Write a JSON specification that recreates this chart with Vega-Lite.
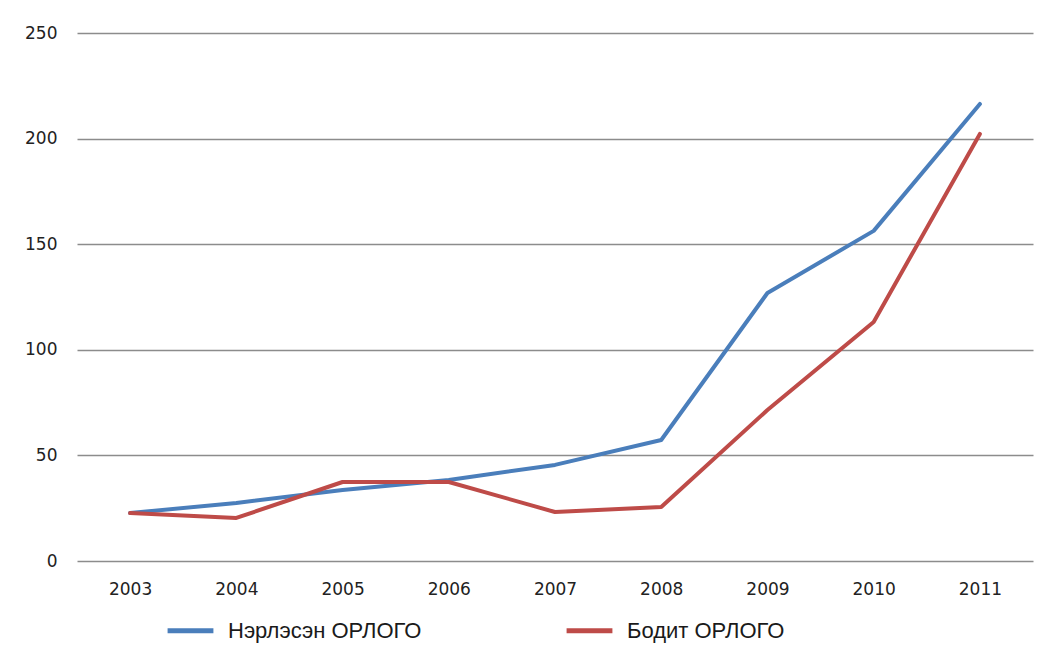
{
  "$schema": "https://vega.github.io/schema/vega-lite/v6.json",
  "width": 956,
  "height": 528,
  "autosize": {"type": "none"},
  "padding": {"left": 77, "top": 33, "right": 12, "bottom": 97},
  "background": "white",
  "config": {
    "view": {"stroke": null},
    "font": "DejaVu Sans"
  },
  "data": {
    "values": [
      {"year": "2003", "series": "Нэрлэсэн ОРЛОГО", "value": 22.7},
      {"year": "2004", "series": "Нэрлэсэн ОРЛОГО", "value": 27.5},
      {"year": "2005", "series": "Нэрлэсэн ОРЛОГО", "value": 33.6},
      {"year": "2006", "series": "Нэрлэсэн ОРЛОГО", "value": 38.4},
      {"year": "2007", "series": "Нэрлэсэн ОРЛОГО", "value": 45.5},
      {"year": "2008", "series": "Нэрлэсэн ОРЛОГО", "value": 57.3},
      {"year": "2009", "series": "Нэрлэсэн ОРЛОГО", "value": 126.9},
      {"year": "2010", "series": "Нэрлэсэн ОРЛОГО", "value": 156.3},
      {"year": "2011", "series": "Нэрлэсэн ОРЛОГО", "value": 216.4},
      {"year": "2003", "series": "Бодит ОРЛОГО", "value": 22.7},
      {"year": "2004", "series": "Бодит ОРЛОГО", "value": 20.4},
      {"year": "2005", "series": "Бодит ОРЛОГО", "value": 37.4},
      {"year": "2006", "series": "Бодит ОРЛОГО", "value": 37.4},
      {"year": "2007", "series": "Бодит ОРЛОГО", "value": 23.2},
      {"year": "2008", "series": "Бодит ОРЛОГО", "value": 25.6},
      {"year": "2009", "series": "Бодит ОРЛОГО", "value": 71.5},
      {"year": "2010", "series": "Бодит ОРЛОГО", "value": 113.2},
      {"year": "2011", "series": "Бодит ОРЛОГО", "value": 202.2}
    ]
  },
  "mark": {"type": "line", "strokeWidth": 4, "strokeCap": "round", "strokeJoin": "round"},
  "encoding": {
    "x": {
      "field": "year",
      "type": "ordinal",
      "scale": {"type": "point", "padding": 0.5},
      "axis": {
        "title": null,
        "labelAngle": 0,
        "domain": false,
        "ticks": false,
        "grid": false,
        "labelFontSize": 17,
        "labelColor": "#222222",
        "labelPadding": 20
      }
    },
    "y": {
      "field": "value",
      "type": "quantitative",
      "scale": {"domain": [0, 250], "nice": false},
      "axis": {
        "title": null,
        "values": [0, 50, 100, 150, 200, 250],
        "domain": false,
        "ticks": false,
        "grid": true,
        "gridColor": "#8c8c8c",
        "gridWidth": 1.5,
        "labelFontSize": 17,
        "labelColor": "#222222",
        "labelPadding": 20
      }
    },
    "color": {
      "field": "series",
      "type": "nominal",
      "sort": ["Нэрлэсэн ОРЛОГО", "Бодит ОРЛОГО"],
      "scale": {
        "domain": ["Нэрлэсэн ОРЛОГО", "Бодит ОРЛОГО"],
        "range": ["#4a7ebb", "#be4b48"]
      },
      "legend": {
        "title": null,
        "orient": "none",
        "legendX": 88,
        "legendY": 572,
        "direction": "horizontal",
        "columns": 2,
        "columnPadding": 134,
        "symbolType": "stroke",
        "symbolStrokeWidth": 5,
        "symbolSize": 2100,
        "labelFont": "Liberation Sans",
        "labelFontSize": 22,
        "labelLimit": 400,
        "labelColor": "#1a1a1a",
        "labelOffset": 12
      }
    }
  }
}
